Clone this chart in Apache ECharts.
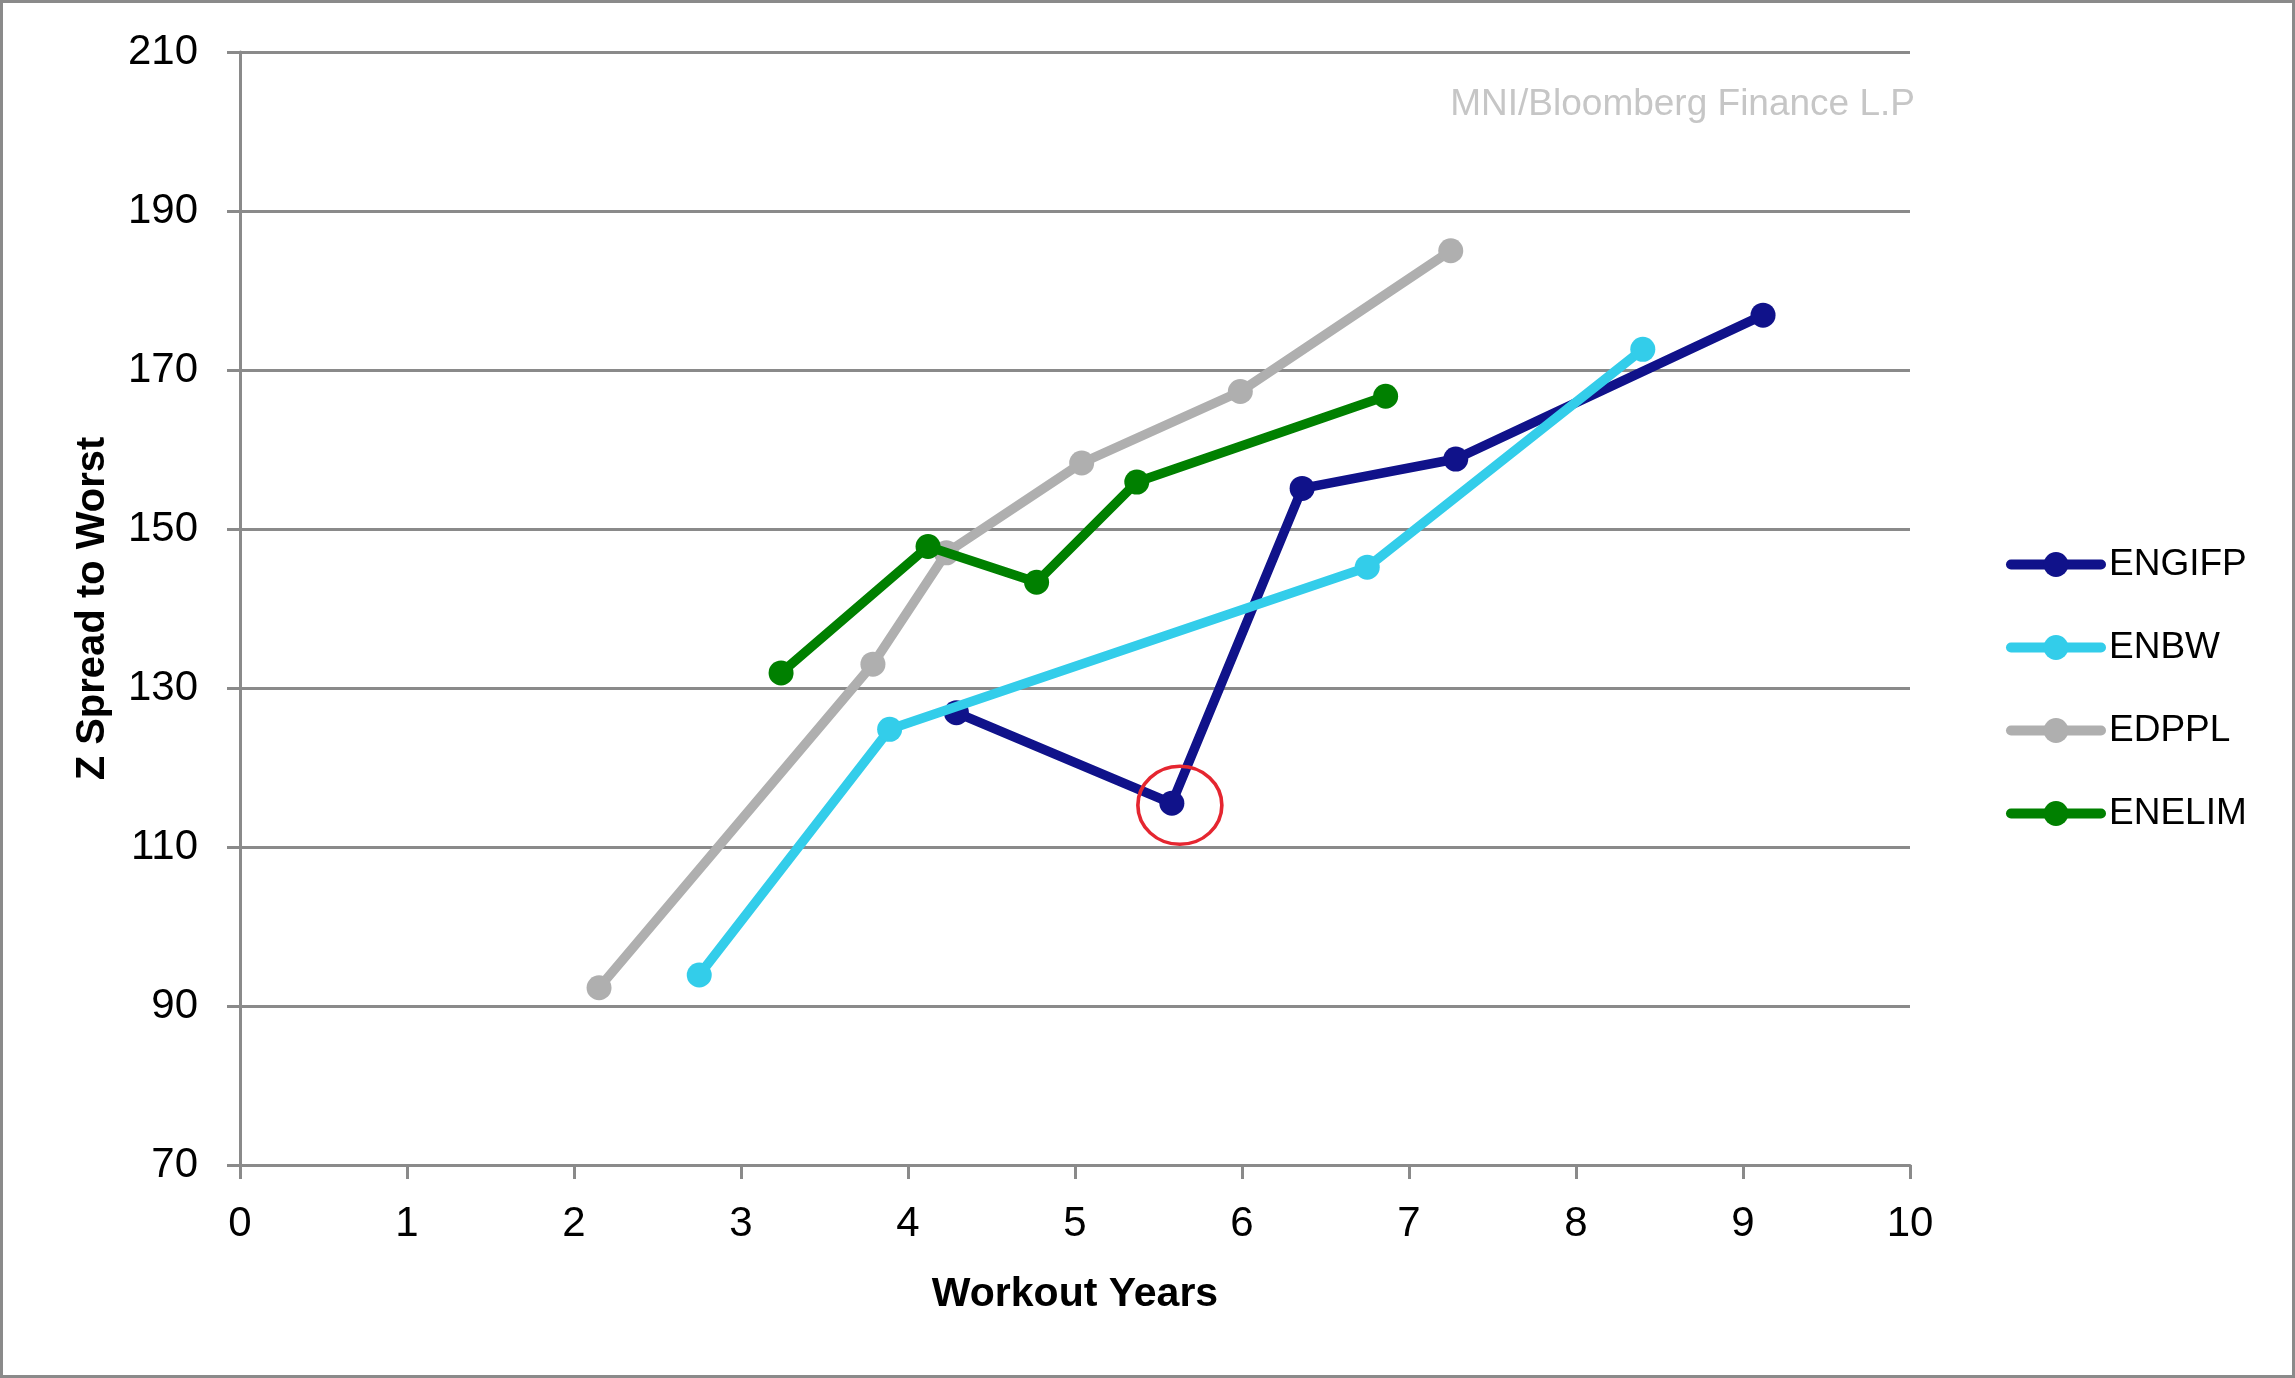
<!DOCTYPE html>
<html>
<head>
<meta charset="utf-8">
<script src="https://cdn.jsdelivr.net/npm/echarts@6/dist/echarts.min.js"></script>
<style>
html,body{margin:0;padding:0;background:#fff;}
#c{width:2295px;height:1378px;}
</style>
</head>
<body>
<div id="c"></div>
<script>
// Data
const seriesNames = ['ENGIFP', 'ENBW', 'EDPPL', 'ENELIM'];
const engifpX = [4.29, 5.58, 6.36, 7.28, 9.12];
const engifpY = [126.9, 115.5, 155.1, 158.8, 176.9];
const enbwX = [2.75, 3.89, 6.75, 8.40];
const enbwY = [93.9, 124.8, 145.2, 172.6];
const edpplX = [2.15, 3.79, 4.23, 5.04, 5.99, 7.25];
const edpplY = [92.3, 133.0, 147.0, 158.3, 167.3, 185.0];
const enelimX = [3.24, 4.12, 4.77, 5.37, 6.86];
const enelimY = [131.9, 147.8, 143.3, 155.9, 166.7];
const xTicks = [0, 1, 2, 3, 4, 5, 6, 7, 8, 9, 10];
const yTicks = [70, 90, 110, 130, 150, 170, 190, 210];
const highlightIndex = 1; // ENGIFP point circled in red
const sourceText = 'MNI/Bloomberg Finance L.P';
const xTitle = 'Workout Years';
const yTitle = 'Z Spread to Worst';

const colors = ['#10128a', '#33cdea', '#afafaf', '#008000'];
const FONT = '"Liberation Sans", Arial, sans-serif';

function pairs(xs, ys) { return xs.map((x, i) => [x, ys[i]]); }
const allData = [pairs(engifpX, engifpY), pairs(enbwX, enbwY), pairs(edpplX, edpplY), pairs(enelimX, enelimY)];

const series = seriesNames.map((name, i) => {
  const s = {
    name: name,
    type: 'line',
    data: allData[i],
    symbol: 'circle',
    symbolSize: 25,
    showSymbol: true,
    lineStyle: { width: 9.5, color: colors[i], cap: 'round', join: 'round' },
    itemStyle: { color: colors[i], borderWidth: 0 },
    emphasis: { disabled: true },
    z: 2 + i,
    animation: false
  };
  if (i === 0) {
    s.markPoint = {
      silent: true,
      symbol: 'circle',
      symbolSize: [84, 78],
      symbolOffset: [8, 2],
      itemStyle: { color: 'rgba(0,0,0,0)', borderColor: '#e52630', borderWidth: 3.5 },
      label: { show: false },
      data: [{ coord: [engifpX[highlightIndex], engifpY[highlightIndex]] }]
    };
  }
  return s;
});

const chart = echarts.init(document.getElementById('c'), null, { renderer: 'canvas' });
chart.setOption({
  backgroundColor: '#ffffff',
  animation: false,
  color: colors,
  textStyle: { fontFamily: FONT },
  title: {
    text: sourceText,
    right: 375,
    top: 81,
    textStyle: { color: '#c6c6c6', fontSize: 37, fontWeight: 'normal', fontFamily: FONT }
  },
  grid: { left: 240, right: 385, top: 52, bottom: 213, containLabel: false },
  legend: {
    orient: 'vertical',
    left: 2001,
    top: 541,
    itemWidth: 90,
    itemHeight: 31,
    itemGap: 46,
    data: seriesNames,
    lineStyle: { width: 10, cap: 'round' },
    textStyle: { fontSize: 37, color: '#000', fontFamily: FONT, padding: [0, 0, 0, 3] },
    selectedMode: false
  },
  xAxis: {
    type: 'value',
    min: xTicks[0],
    max: xTicks[xTicks.length - 1],
    interval: 1,
    name: xTitle,
    nameLocation: 'middle',
    nameGap: 109,
    nameTextStyle: { fontSize: 41, fontWeight: 'bold', color: '#000', fontFamily: FONT },
    axisLine: { show: true, lineStyle: { color: '#8a8a8a', width: 3 } },
    axisTick: { show: true, inside: false, length: 14, lineStyle: { color: '#8a8a8a', width: 3 } },
    axisLabel: { fontSize: 42, color: '#000', margin: 38, fontFamily: FONT },
    splitLine: { show: false }
  },
  yAxis: {
    type: 'value',
    min: yTicks[0],
    max: yTicks[yTicks.length - 1],
    interval: 20,
    name: yTitle,
    nameLocation: 'middle',
    nameGap: 127,
    nameTextStyle: { fontSize: 40, fontWeight: 'bold', color: '#000', fontFamily: FONT },
    axisLine: { show: true, lineStyle: { color: '#8a8a8a', width: 3 } },
    axisTick: { show: true, inside: false, length: 13, lineStyle: { color: '#8a8a8a', width: 3 } },
    axisLabel: { fontSize: 42, color: '#000', margin: 42, fontFamily: FONT },
    splitLine: { show: true, lineStyle: { color: '#8a8a8a', width: 3 } }
  },
  graphic: [{
    type: 'rect',
    silent: true,
    shape: { x: 1.5, y: 1.5, width: 2292, height: 1375 },
    style: { fill: 'none', stroke: '#8a8a8a', lineWidth: 3 },
    z: 100
  }],
  series: series
});
</script>
</body>
</html>
